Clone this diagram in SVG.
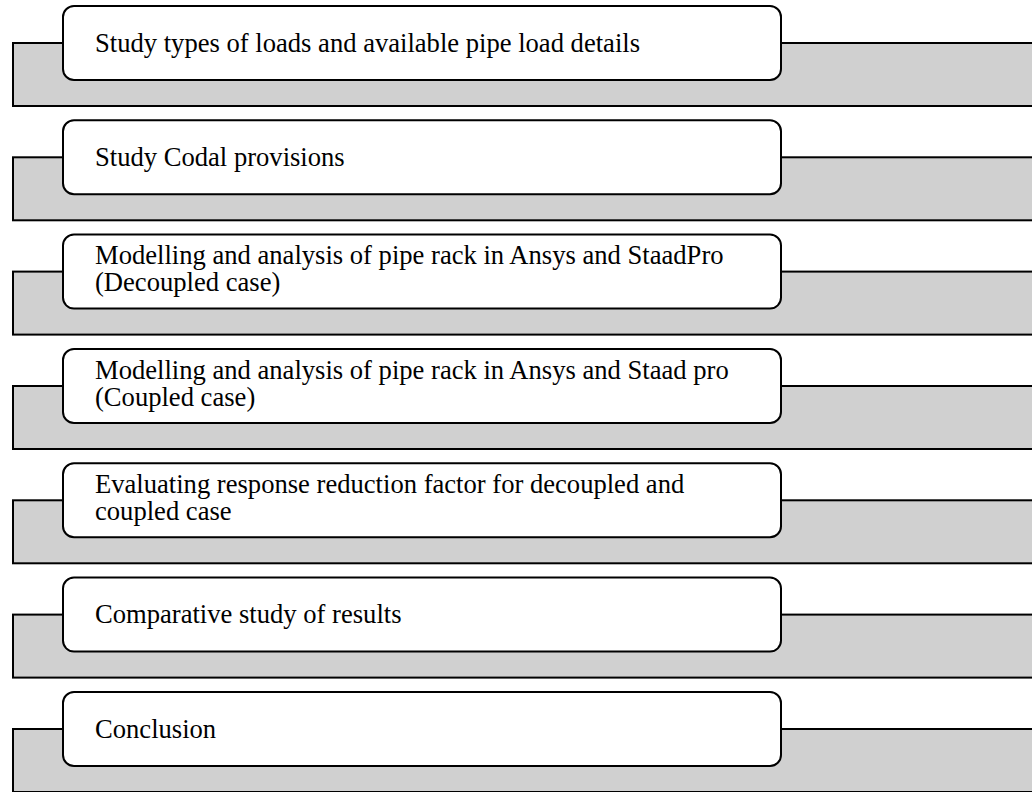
<svg xmlns="http://www.w3.org/2000/svg" width="1032" height="792" viewBox="0 0 1032 792">
  <style>
    .band { fill: #d0d0d0; stroke: #000; stroke-width: 2; }
    .box { fill: #fff; stroke: #000; stroke-width: 2; }
    .label { font-family: "Liberation Serif", "Times New Roman", serif; font-size: 26.6px; fill: #000; }
  </style>
  <rect width="1032" height="792" fill="#fff"/>
  <g id="connectors"></g>

  <g id="step1" transform="translate(0,6)">
    <rect class="band" x="13" y="37" width="1040" height="63"/>
    <rect class="box" x="63" y="0" width="718" height="74" rx="11"/>
    <text class="label" x="95" y="45.7">Study types of loads and available pipe load details</text>
  </g>

  <g id="step2" transform="translate(0,120.3)">
    <rect class="band" x="13" y="37" width="1040" height="63"/>
    <rect class="box" x="63" y="0" width="718" height="74" rx="11"/>
    <text class="label" x="95" y="45.7">Study Codal provisions</text>
  </g>

  <g id="step3" transform="translate(0,234.6)">
    <rect class="band" x="13" y="37" width="1040" height="63"/>
    <rect class="box" x="63" y="0" width="718" height="74" rx="11"/>
    <text class="label" x="95" y="29.5">Modelling and analysis of pipe rack in Ansys and StaadPro</text>
    <text class="label" x="95" y="56.8">(Decoupled case)</text>
  </g>

  <g id="step4" transform="translate(0,349)">
    <rect class="band" x="13" y="37" width="1040" height="63"/>
    <rect class="box" x="63" y="0" width="718" height="74" rx="11"/>
    <text class="label" x="95" y="29.5">Modelling and analysis of pipe rack in Ansys and Staad pro</text>
    <text class="label" x="95" y="56.8">(Coupled case)</text>
  </g>

  <g id="step5" transform="translate(0,463.3)">
    <rect class="band" x="13" y="37" width="1040" height="63"/>
    <rect class="box" x="63" y="0" width="718" height="74" rx="11"/>
    <text class="label" x="95" y="29.5">Evaluating response reduction factor for decoupled and</text>
    <text class="label" x="95" y="56.8">coupled case</text>
  </g>

  <g id="step6" transform="translate(0,577.6)">
    <rect class="band" x="13" y="37" width="1040" height="63"/>
    <rect class="box" x="63" y="0" width="718" height="74" rx="11"/>
    <text class="label" x="95" y="45.7">Comparative study of results</text>
  </g>

  <g id="step7" transform="translate(0,692)">
    <rect class="band" x="13" y="37" width="1040" height="63"/>
    <rect class="box" x="63" y="0" width="718" height="74" rx="11"/>
    <text class="label" x="95" y="45.7">Conclusion</text>
  </g>
</svg>
